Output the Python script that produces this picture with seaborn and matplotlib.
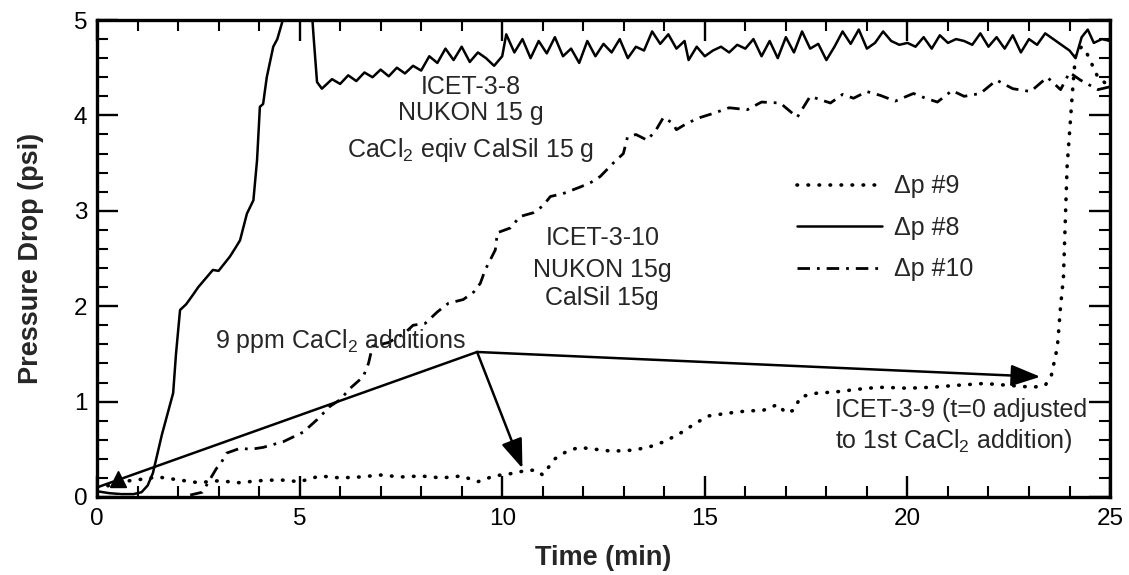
import matplotlib
matplotlib.use("Agg")
import matplotlib.pyplot as plt
from matplotlib.ticker import MultipleLocator
import seaborn as sns
import pandas as pd

# ---------------- data ----------------
t8 = [0.0, 0.3, 0.6, 0.9, 1.1, 1.25, 1.38, 1.6, 1.88, 1.95, 2.05, 2.2, 2.37, 2.5, 2.7, 2.86,
      3.0, 3.15, 3.28, 3.4, 3.53, 3.7, 3.86, 3.95, 4.02, 4.1, 4.19, 4.35, 4.45, 4.6, 5.0, 5.3,
      5.35, 5.43, 5.55, 5.8, 6.0, 6.2, 6.4, 6.6, 6.8, 7.0, 7.2, 7.4, 7.6, 7.8, 8.0, 8.2, 8.4,
      8.6, 8.8, 9.0, 9.2, 9.4, 9.6, 9.8, 10.0, 10.1, 10.3, 10.5, 10.7, 10.9, 11.1, 11.3, 11.5,
      11.7, 11.9, 12.1, 12.3, 12.5, 12.7, 12.9, 13.1, 13.3, 13.5, 13.7, 13.9, 14.1, 14.3, 14.5,
      14.6, 14.8, 15.0, 15.2, 15.4, 15.6, 15.8, 16.0, 16.2, 16.4, 16.6, 16.8, 17.0, 17.2, 17.4,
      17.6, 17.8, 18.0, 18.2, 18.4, 18.6, 18.8, 19.0, 19.2, 19.4, 19.6, 19.8, 20.0, 20.2, 20.4,
      20.6, 20.8, 21.0, 21.2, 21.4, 21.6, 21.8, 22.0, 22.2, 22.4, 22.6, 22.8, 23.0, 23.2, 23.4,
      23.6, 23.8, 24.0, 24.15, 24.3, 24.45, 24.6, 24.8, 25.0]
p8 = [0.06, 0.04, 0.03, 0.03, 0.05, 0.12, 0.25, 0.65, 1.09, 1.50, 1.96, 2.02, 2.12, 2.20, 2.30, 2.38,
      2.37, 2.45, 2.52, 2.60, 2.69, 2.97, 3.11, 3.53, 4.09, 4.12, 4.40, 4.72, 4.80, 5.02, 5.30, 5.10,
      4.80, 4.35, 4.28, 4.38, 4.33, 4.42, 4.36, 4.45, 4.40, 4.48, 4.41, 4.50, 4.44, 4.52, 4.47, 4.62, 4.55,
      4.70, 4.58, 4.72, 4.56, 4.66, 4.60, 4.52, 4.62, 4.85, 4.66, 4.80, 4.60, 4.78, 4.65, 4.82, 4.62,
      4.70, 4.55, 4.78, 4.62, 4.75, 4.66, 4.80, 4.60, 4.72, 4.68, 4.88, 4.75, 4.85, 4.70, 4.78,
      4.58, 4.72, 4.62, 4.68, 4.72, 4.66, 4.74, 4.70, 4.80, 4.62, 4.78, 4.60, 4.82, 4.66, 4.88,
      4.70, 4.75, 4.58, 4.72, 4.88, 4.75, 4.90, 4.70, 4.76, 4.88, 4.78, 4.74, 4.76, 4.72, 4.82,
      4.70, 4.84, 4.76, 4.80, 4.78, 4.74, 4.86, 4.72, 4.82, 4.70, 4.84, 4.66, 4.80, 4.74, 4.86,
      4.80, 4.74, 4.68, 4.60, 4.82, 4.90, 4.76, 4.80, 4.78]

t9 = [0.0, 0.3, 0.6, 1.0, 1.5, 2.0, 2.5, 3.0, 3.5, 4.0, 4.5, 5.0, 5.5, 6.0, 6.5, 7.0, 7.5, 8.0,
      8.5, 9.0, 9.4, 9.8, 10.3, 10.6, 10.85, 11.0, 11.3, 11.6, 11.9, 12.3, 12.7, 13.2, 13.6, 14.0,
      14.4, 14.8, 15.1, 15.6, 16.0, 16.45, 16.8, 17.0, 17.2, 17.36, 17.78, 18.2, 18.6, 19.0, 19.4,
      20.0, 20.6, 21.2, 21.9, 22.5, 23.1, 23.4, 23.55, 23.7, 23.78, 23.85, 23.94, 24.07, 24.15,
      24.3, 24.43, 24.7, 25.0]
p9 = [0.10, 0.12, 0.16, 0.18, 0.21, 0.18, 0.15, 0.17, 0.15, 0.17, 0.18, 0.16, 0.22, 0.20, 0.21, 0.23, 0.21, 0.22,
      0.20, 0.22, 0.16, 0.22, 0.25, 0.28, 0.28, 0.23, 0.40, 0.48, 0.52, 0.50, 0.48, 0.49, 0.52, 0.58,
      0.67, 0.78, 0.85, 0.88, 0.90, 0.91, 0.97, 0.88, 0.91, 1.05, 1.09, 1.10, 1.12, 1.14, 1.15,
      1.14, 1.15, 1.17, 1.19, 1.17, 1.15, 1.17, 1.27, 1.57, 2.00, 2.30, 3.46, 4.23, 4.65,
      4.72, 4.65, 4.40, 4.30]

t10 = [2.3, 2.6, 2.95, 3.04, 3.2, 3.53, 3.8, 4.1, 4.35, 4.6, 5.09, 5.43, 5.75, 6.0, 6.25, 6.57,
       6.7, 6.8, 7.2, 7.6, 7.8, 8.1, 8.4, 8.67, 9.04, 9.3, 9.46, 9.58, 9.83, 9.88, 10.2, 10.44,
       10.77, 11.0, 11.19, 11.5, 11.93, 12.2, 12.42, 12.74, 12.99, 13.09, 13.3, 13.58, 13.8, 13.98,
       14.2, 14.3, 14.57, 14.9, 15.2, 15.6, 16.05, 16.4, 16.86, 17.28, 17.6, 18.1, 18.4, 18.67,
       19.0, 19.33, 19.7, 20.15, 20.45, 20.74, 21.1, 21.4, 21.8, 22.2, 22.6, 23.04, 23.45, 23.78,
       24.0, 24.27, 24.7, 25.0]
p10 = [0.02, 0.05, 0.30, 0.34, 0.46, 0.51, 0.50, 0.52, 0.55, 0.58, 0.68, 0.81, 0.95, 1.02, 1.14, 1.26,
       1.40, 1.58, 1.62, 1.72, 1.80, 1.82, 1.94, 2.03, 2.07, 2.15, 2.24, 2.38, 2.59, 2.77, 2.82, 2.94,
       2.98, 3.05, 3.15, 3.18, 3.25, 3.30, 3.36, 3.50, 3.60, 3.77, 3.80, 3.74, 3.85, 3.98,
       3.92, 3.85, 3.92, 3.98, 4.02, 4.08, 4.06, 4.14, 4.13, 3.98, 4.20, 4.13, 4.22, 4.18,
       4.25, 4.21, 4.15, 4.23, 4.18, 4.14, 4.26, 4.20, 4.23, 4.37, 4.28, 4.25, 4.40, 4.27,
       4.45, 4.37, 4.27, 4.30]

series_labels = ["Δp #9", "Δp #8", "Δp #10"]
x_ticks = [0, 5, 10, 15, 20, 25]
y_ticks = [0, 1, 2, 3, 4, 5]

# annotation geometry (data coords)
apex = (9.38, 1.52)
arrow_tips = [(10.5, 0.30), (23.28, 1.26)]
left_end = (0.0, 0.10)
triangle_pt = (0.52, 0.19)

# ---------------- style ----------------
sns.set_theme(style="ticks")
plt.rcParams["font.family"] = ["Liberation Sans", "DejaVu Sans"]
plt.rcParams["mathtext.fontset"] = "custom"
plt.rcParams["mathtext.rm"] = "Liberation Sans"
plt.rcParams["mathtext.it"] = "Liberation Sans"
plt.rcParams["mathtext.default"] = "regular"

fig = plt.figure(figsize=(11.29, 5.75), dpi=100)
ax = fig.add_axes([0.0859, 0.1357, 0.8973, 0.8295])

df8 = pd.DataFrame({"t": t8, "p": p8})
df9 = pd.DataFrame({"t": t9, "p": p9})
df10 = pd.DataFrame({"t": t10, "p": p10})

sns.lineplot(data=df9, x="t", y="p", ax=ax, color="black", lw=2.6, sort=False,
             linestyle=(0, (0.15, 2.9)), dash_capstyle="round", label=series_labels[0])
sns.lineplot(data=df8, x="t", y="p", ax=ax, color="black", lw=1.8, sort=False,
             label=series_labels[1])
sns.lineplot(data=df10, x="t", y="p", ax=ax, color="black", lw=2.0, sort=False,
             linestyle=(0, (4.5, 2.5, 1.0, 2.5)), label=series_labels[2])

ax.set_xlim(0, 25)
ax.set_ylim(0, 5)
ax.set_xticks(x_ticks)
ax.set_yticks(y_ticks)
ax.xaxis.set_minor_locator(MultipleLocator(1))
ax.yaxis.set_minor_locator(MultipleLocator(0.2))
ax.tick_params(which="both", direction="in", top=True, right=True, colors="black",
               labelsize=17.5)
ax.tick_params(which="major", length=15, width=1.7)
ax.tick_params(which="minor", length=8, width=1.5)
ax.tick_params(axis="x", pad=8)
ax.tick_params(axis="y", pad=7)
for s in ax.spines.values():
    s.set_linewidth(2.4)
    s.set_color("black")

ax.set_xlabel("Time (min)", fontsize=19.5, fontweight="bold", labelpad=11)
ax.set_ylabel("Pressure Drop (psi)", fontsize=19.5, fontweight="bold", labelpad=21)

# legend
handles, labels = ax.get_legend_handles_labels()
ax.legend(handles, labels, loc="center left", bbox_to_anchor=(0.681, 0.564),
          frameon=False, fontsize=18, handlelength=3.4, handletextpad=0.5,
          labelspacing=0.7, borderaxespad=0)

# text blocks
fs = 18
ax.text(9.23, 4.22, "ICET-3-8", ha="center", va="baseline", fontsize=fs)
ax.text(9.23, 3.95, "NUKON 15 g", ha="center", va="baseline", fontsize=fs)
ax.text(9.23, 3.56, "CaCl$_2$ eqiv CalSil 15 g", ha="center", va="baseline", fontsize=fs)

ax.text(12.47, 2.64, "ICET-3-10", ha="center", va="baseline", fontsize=fs)
ax.text(12.47, 2.31, "NUKON 15g", ha="center", va="baseline", fontsize=fs)
ax.text(12.47, 2.01, "CalSil 15g", ha="center", va="baseline", fontsize=fs)

ax.text(2.91, 1.56, "9 ppm CaCl$_2$ additions", ha="left", va="baseline", fontsize=fs)

ax.text(18.22, 0.84, "ICET-3-9 (t=0 adjusted", ha="left", va="baseline", fontsize=fs)
ax.text(18.22, 0.51, "to 1st CaCl$_2$ addition)", ha="left", va="baseline", fontsize=fs)

# arrows
ax.plot([left_end[0], apex[0]], [left_end[1], apex[1]], color="black", lw=1.8)
ax.plot([triangle_pt[0]], [triangle_pt[1]], marker="^", color="black", markersize=11)
for tip in arrow_tips:
    ax.annotate("", xy=tip, xytext=apex,
                arrowprops=dict(arrowstyle="-|>,head_length=0.6,head_width=0.22",
                                color="black", lw=1.8, mutation_scale=30,
                                shrinkA=0, shrinkB=0))

fig.savefig("out.png", dpi=100, facecolor="white")
